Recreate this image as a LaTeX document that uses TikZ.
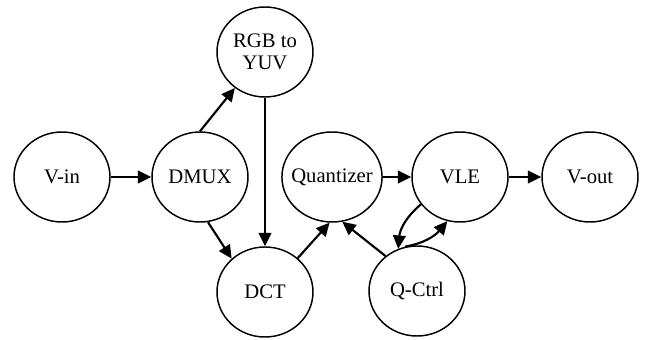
\documentclass[tikz,border=0pt]{standalone}
\usepackage{fontspec}
\setmainfont{Liberation Serif}
\usepackage{tikz}
\usetikzlibrary{shapes, arrows.meta, positioning, calc}

\begin{document}
\begin{tikzpicture}[x=0.75pt, y=0.75pt,
    blk/.style={draw, ellipse, line width=1.1pt, minimum width=72pt, minimum height=67.5pt,
      inner sep=0pt, align=center, font=\fontsize{15.5}{16.5}\selectfont},
    flow/.style={line width=1.6pt, -{Triangle[length=10pt, width=9.5pt]}}]
  \useasboundingbox (0,0) rectangle (649,339);
  \node[blk] (vin) at (62,162) {V-in};
  \node[blk] (dmux) at (200,162) {DMUX};
  \node[blk] (rgb) at (265,287) {RGB to\\YUV};
  \node[blk] (dct) at (265,47) {DCT};
  \node[blk, inner xsep=-4pt] (quant) at (332,162) {Quantizer};
  \node[blk] (vle) at (460,162) {VLE};
  \node[blk] (vout) at (590,162) {V-out};
  \node[blk] (qctrl) at (417,48) {Q-Ctrl};
  \draw[flow] (vin) -- (dmux);
  \draw[flow] (dmux.north) -- (rgb.230);
  \draw[flow] (dmux.280) -- (dct.135);
  \draw[flow] (rgb) -- (dct);
  \draw[flow] (dct.46) -- (quant.267);
  \draw[flow] (qctrl.132) -- (quant.283);
  \draw[flow] (quant) -- (vle);
  \draw[flow] (vle) -- (vout);
  \draw[flow] (vle.215) to[out=220, in=85] (qctrl.114);
  \draw[flow] (qctrl.105) to[out=10, in=230] (vle.254);
\end{tikzpicture}
\end{document}
